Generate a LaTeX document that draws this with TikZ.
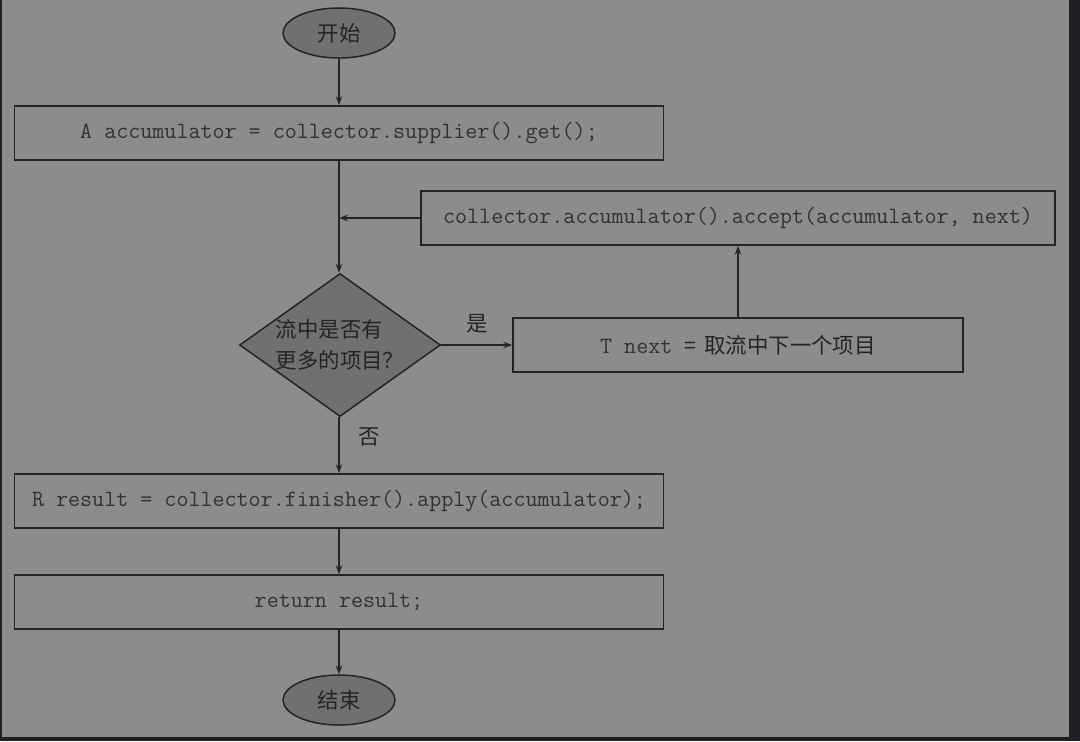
\documentclass[tikz,border=0pt]{standalone}
\usepackage{fontspec}
\newfontfamily\cjk{Noto Sans CJK SC}
\usetikzlibrary{arrows.meta,shapes.geometric,positioning}

\definecolor{frame}{RGB}{31,32,35}
\definecolor{paper}{RGB}{139,140,142}
\definecolor{shade}{RGB}{112,112,113}
\definecolor{ink}{RGB}{36,36,38}
\definecolor{codeink}{RGB}{50,50,52}

\begin{document}
\begin{tikzpicture}[
    x = 0.2mm, y = -0.2mm, %
    > = {Stealth[length=1.8mm,width=1.3mm]}, %
    terminal/.style = {ellipse, draw=ink, line width=0.3mm, fill=shade,
      minimum width=22.4mm, minimum height=10mm, text=ink,
      font=\cjk\fontsize{12.2}{14}\selectfont},
    codebox/.style = {rectangle, draw=ink, line width=0.3mm,
      minimum height=10.8mm, text=codeink,
      font=\ttfamily\fontsize{13.3}{14}\selectfont},
    decision/.style = {diamond, aspect=1.4, draw=ink, line width=0.3mm,
      fill=shade, minimum width=40.2mm, minimum height=28.6mm,
      inner sep=0pt, align=left, text=ink,
      font=\cjk\fontsize{12.2}{17.5}\selectfont},
    flow/.style = {->, draw=ink, line width=0.3mm},
    answer/.style = {text=ink, font=\cjk\fontsize{12.2}{14}\selectfont}
    ]

    % page
    \useasboundingbox (0,0) rectangle (1080,741);
    \fill[frame] (0,0) rectangle (1080,741);
    \fill[paper] (2,0) rectangle (1069,737);

    \node[terminal] (start) at (339,33) {开始};
    \node[codebox, minimum width=129.8mm] (init) at (339,133)
      {A accumulator = collector.supplier().get();};
    \node[codebox, minimum width=126.8mm] (accept) at (738,218)
      {collector.accumulator().accept(accumulator, next)};
    \node[decision] (more) at (340,345) {流中是否有\\更多的项目？};
    \node[codebox, minimum width=90mm] (take) at (738,345)
      {T next {\cjk\fontsize{12.2}{14}\selectfont\color{ink}=\hspace{1.6mm}取流中下一个项目}};
    \node[codebox, minimum width=129.8mm] (finish) at (339,501)
      {R result = collector.finisher().apply(accumulator);};
    \node[codebox, minimum width=129.8mm] (ret) at (339,602)
      {return result;};
    \node[terminal] (stop) at (339,700) {结束};

    \coordinate (join) at (init.south |- accept.west);

    \draw[flow] (start) -- (init);
    \draw[flow] (init) -- (join |- more.north);
    \draw[flow] (accept) -- (join);
    \draw[flow] (more) -- node[answer, above=1mm] {是} (take);
    \draw[flow] (take) -- (accept);
    \draw[flow] (join |- more.south) -- node[answer, right=2.5mm, pos=0.35] {否} (finish);
    \draw[flow] (finish) -- (ret);
    \draw[flow] (ret) -- (stop);

\end{tikzpicture}
\end{document}
